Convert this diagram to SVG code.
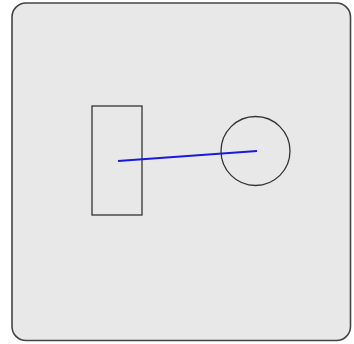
<svg xmlns="http://www.w3.org/2000/svg" width="354" height="344" viewBox="0 0 354 344">
<style>
.shape{fill:none;stroke:#333;stroke-width:1.3}
</style>
<rect width="354" height="344" fill="#fff"/>
<g id="frame"><rect x="12" y="3" width="338.5" height="337.5" rx="14" fill="#e8e8e8" stroke="#444" stroke-width="1.6"/></g>
<g id="box"><rect class="shape" x="92" y="106" width="50" height="109"/></g>
<g id="ring"><circle class="shape" cx="255.5" cy="151" r="34.5"/></g>
<g id="connectors"><line x1="118" y1="161" x2="257" y2="151" stroke="#1a1adc" stroke-width="2"/></g>
</svg>
